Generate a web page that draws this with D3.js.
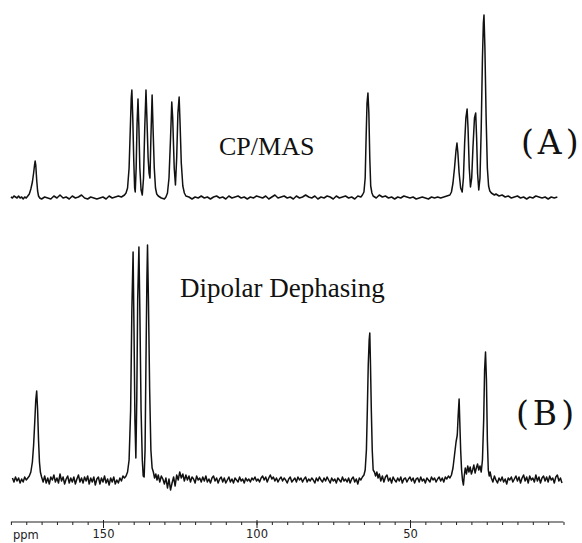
<!DOCTYPE html>
<html>
<head>
<meta charset="utf-8">
<script src="https://cdn.jsdelivr.net/npm/d3@7"></script>
<style>
  body { margin: 0; background: #fff; }
  svg { display: block; }
</style>
</head>
<body>
<div id="chart"></div>
<script>
// trace (A) CP/MAS : [ppm, intensity]
const cpmas = [
  [180,1],[179.5,0],[179,2],[178.5,1],[178,0],[177.5,2],[177,0],[176.5,1],[176,-1],[175.5,1],[175,0],[174.5,2],
  [174,4],[173.5,9],[173,16],[172.6,25],[172.3,33],[172.1,37],[171.9,33],[171.6,18],[171.3,7],[171,2],[170.6,0],
  [170,-1],[169,1],[168,0],[167,-1],[166,2],[165,0],[164,3],[163,0],[162,1],[161,-1],[160,2],[159,0],[158,1],
  [157,3],[156,0],[155,-1],[154,1],[153,0],[152,-1],[151,0],[150,1],[149,-1],[148,2],[147,0],[146,1],[145,2],
  [144,1],[143,3],
  [142.5,5],[142,10],[141.5,30],[141.1,70],[140.8,100],[140.6,108],[140.3,80],[140,40],[139.7,10],[139.5,6],
  [139.2,30],[138.9,75],[138.6,99],[138.3,70],[138,30],[137.6,8],[137.2,3],[136.8,20],[136.4,70],[136,108],
  [135.7,80],[135.3,40],[135,25],[134.7,20],[134.4,60],[134,103],[133.7,70],[133.3,30],[132.9,10],[132.5,4],
  [132,2],[131,0],[130,-1],[129.5,1],[129,5],[128.5,20],[128,60],[127.6,96],[127.3,80],[126.8,30],[126.4,13],
  [126,40],[125.6,85],[125.2,101],[124.9,75],[124.5,35],[124,12],[123.5,5],[123,2],[122,1],[121,-1],[120,1],
  [119,0],[118,2],[117,0],[116,1],[115,-1],[114,1],[113,2],[112,0],[111,1],[110,-1],[109,2],[108,0],[107,1],
  [106,2],[105,0],[104,1],[103,-1],[102,1],[101,0],[100,2],[99,1],[98,0],[97,2],[96,-1],[95,1],[94,3],[93,0],
  [92,1],[91,2],[90,0],[89,1],[88,-1],[87,2],[86,0],[85,1],[84,3],[83,1],[82,0],[81,2],[80,-1],[79,1],[78,0],
  [77,2],[76,1],[75,-1],[74,2],[73,0],[72,1],[71,2],[70,0],[69,1],[68,-1],[67,2],[66,1],
  [65.5,3],[65,6],[64.6,20],[64.3,60],[64,95],[63.7,105],[63.4,85],[63.1,40],[62.8,12],[62.4,5],[62,2],
  [61,0],[60,3],[59,1],[58,2],[57,0],[56,1],[55,-1],[54,1],[53,0],[52,2],[51,1],[50,0],[49,1],[48,-1],[47,0],
  [46,1],[45,0],[44,-1],[43,1],[42,0],[41,1],[40,0],[39,1],[38,2],[37,3],
  [36.5,6],[36,15],[35.5,30],[35,48],[34.7,55],[34.4,45],[34,25],[33.5,10],[33,6],[32.6,20],[32.2,55],[31.8,80],
  [31.4,89],[31.1,70],[30.7,30],[30.3,11],[29.9,20],[29.5,50],[29,80],[28.6,85],[28.3,60],[28,25],[27.6,8],
  [27.2,20],[26.8,70],[26.4,140],[26.1,175],[25.9,183],[25.6,150],[25.2,80],[24.8,30],[24.4,12],[24,7],[23.5,5],
  [23,4],[22.5,3],[22,4],[21,2],[20,3],[19,1],[18,2],[17,0],[16,1],[15,2],[14,0],[13,1],[12,-1],[11,1],[10,0],
  [9,2],[8,1],[7,0],[6,1],[5,-1],[4,1],[3,0],[2,1]
];

// trace (B) dipolar dephasing : [ppm, intensity]
const dipolar = [
  [179.5,2],[179,-2],[178.5,3],[178,-1],[177.5,2],[177,-3],[176.5,1],[176,-2],[175.5,3],[175,0],[174.5,2],[174,4],
  [173.5,8],[173,18],[172.6,35],[172.2,60],[171.9,80],[171.6,89],[171.3,70],[171,40],[170.7,18],[170.4,8],[170,3],
  [169.5,-2],[169,4],[168.5,-3],[168,2],[167.5,-4],[167,3],[166.5,0],[166,5],[165.5,-2],[165,2],[164.5,-3],[164,6],
  [163.5,-1],[163,3],[162.5,-4],[162,1],[161.5,4],[161,-3],[160.5,2],[160,-2],[159.5,3],[159,-4],[158.5,1],[158,5],
  [157.5,-2],[157,2],[156.5,-3],[156,3],[155.5,-1],[155,4],[154.5,-4],[154,2],[153.5,-2],[153,3],[152.5,-5],[152,1],
  [151.5,3],[151,-4],[150.5,2],[150,-2],[149.5,4],[149,-3],[148.5,1],[148,-5],[147.5,2],[147,-2],[146.5,3],[146,-4],
  [145.5,0],[145,-3],[144.5,2],[144,-1],[143.5,4],[143,2],
  [142.5,4],[142,8],[141.5,20],[141,70],[140.6,170],[140.2,228],[139.9,150],[139.6,60],[139.3,22],[139,80],
  [138.7,180],[138.3,233],[138,170],[137.6,70],[137.2,20],[136.9,4],[136.6,3],[136.3,30],[136,120],[135.7,200],
  [135.5,235],[135.2,180],[134.8,90],[134.4,30],[134,12],[133.6,8],[133.2,2],
  [132.8,6],[132.4,0],[132,5],[131.5,-2],[131,4],[130.5,1],[130,-4],[129.5,2],[129,-8],[128.5,1],[128,-10],
  [127.5,-3],[127,3],[126.5,-6],[126,5],[125.5,0],[125,8],[124.5,2],[124,6],[123.5,-1],[123,5],[122.5,0],[122,4],
  [121.5,-2],[121,3],[120.5,1],[120,-3],[119.5,4],[119,0],[118.5,2],[118,-2],[117.5,3],[117,-1],[116.5,4],[116,-2],
  [115.5,1],[115,-3],[114.5,2],[114,4],[113.5,-1],[113,2],[112.5,-3],[112,1],[111.5,3],[111,-2],[110.5,2],[110,-3],
  [109.5,0],[109,3],[108.5,-2],[108,1],[107.5,-3],[107,2],[106.5,0],[106,-2],[105.5,3],[105,-1],[104.5,1],[104,-3],
  [103.5,2],[103,-1],[102.5,1],[102,-2],[101.5,2],[101,0],[100.5,3],[100,-1],[99.5,1],[99,-2],[98.5,2],[98,4],
  [97.5,0],[97,3],[96.5,-2],[96,2],[95.5,5],[95,1],[94.5,3],[94,-1],[93.5,2],[93,-2],[92.5,1],[92,3],[91.5,-1],
  [91,2],[90.5,0],[90,-3],[89.5,1],[89,3],[88.5,-2],[88,0],[87.5,2],[87,-2],[86.5,3],[86,0],[85.5,2],[85,-2],
  [84.5,1],[84,3],[83.5,-2],[83,1],[82.5,-1],[82,2],[81.5,0],[81,-3],[80.5,2],[80,-1],[79.5,3],[79,0],[78.5,-2],
  [78,2],[77.5,-1],[77,3],[76.5,0],[76,-3],[75.5,2],[75,-1],[74.5,1],[74,-3],[73.5,2],[73,0],[72.5,-2],[72,3],
  [71.5,-1],[71,1],[70.5,-2],[70,2],[69.5,-3],[69,1],[68.5,3],[68,-2],[67.5,1],[67,-4],[66.5,2],[66,0],[65.5,3],
  [65,5],[64.6,10],[64.2,30],[63.9,70],[63.6,115],[63.3,140],[63.1,147],[62.9,120],[62.6,70],[62.3,30],[62,10],
  [61.6,8],[61.2,4],[60.8,8],[60.4,2],[60,6],[59.5,-1],[59,4],[58.5,-2],[58,3],[57.5,5],[57,-1],[56.5,2],[56,-3],
  [55.5,3],[55,0],[54.5,-2],[54,2],[53.5,-1],[53,3],[52.5,-3],[52,1],[51.5,2],[51,-2],[50.5,1],[50,3],[49.5,-1],
  [49,2],[48.5,-3],[48,1],[47.5,2],[47,-2],[46.5,3],[46,-1],[45.5,1],[45,-3],[44.5,2],[44,0],[43.5,-2],[43,3],
  [42.5,0],[42,2],[41.5,-2],[41,1],[40.5,3],[40,-1],[39.5,2],[39,-2],[38.5,3],[38,1],[37.5,4],[37,2],
  [36.5,5],[36,12],[35.5,25],[35,38],[34.6,45],[34.3,65],[34,81],[33.8,60],[33.5,30],[33.2,10],[32.9,0],[32.6,-5],
  [32.3,5],[32,12],[31.6,6],[31.2,14],[30.8,8],[30.4,13],[30,6],[29.6,10],[29.2,15],[28.8,7],[28.4,12],[28,16],
  [27.6,10],[27.2,14],[26.8,8],[26.4,20],[26,60],[25.7,110],[25.4,128],[25.1,100],[24.8,40],[24.5,10],[24.2,4],
  [23.9,8],[23.5,2],[23,-2],[22.5,4],[22,0],[21.5,-3],[21,2],[20.5,-1],[20,3],[19.5,-2],[19,1],[18.5,-4],[18,2],
  [17.5,0],[17,3],[16.5,-2],[16,1],[15.5,4],[15,-1],[14.5,3],[14,-3],[13.5,2],[13,5],[12.5,-1],[12,3],[11.5,-3],
  [11,4],[10.5,0],[10,2],[9.5,-2],[9,5],[8.5,-1],[8,3],[7.5,-3],[7,2],[6.5,4],[6,-1],[5.5,3],[5,-2],[4.5,4],
  [4,0],[3.5,2],[3,-3],[2.5,3],[2,5],[1.5,-1],[1,2],[0.5,-3]
];

const majorTicks = [150, 100, 50];
const minorTicks = d3.range(180, -1, -5);
const axisUnit = 'ppm';
const labels = ['CP/MAS', 'Dipolar Dephasing'];
const panelTags = ['(A)', '(B)'];

const w = 582;
const h = 543;

const svg = d3.select('#chart').append('svg').attr('width', w).attr('height', h);

const xScale = d3.scaleLinear().domain([180, 0]).range([10.9, 563.5]);
const yA = d3.scaleLinear().domain([0, 200]).range([198, -2]);
const yB = d3.scaleLinear().domain([0, 240]).range([480, 240]);

const lineA = d3.line().x(d => xScale(d[0])).y(d => yA(d[1]));
const lineB = d3.line().x(d => xScale(d[0])).y(d => yB(d[1]));

svg.append('path').datum(cpmas).attr('d', lineA)
  .attr('fill', 'none').attr('stroke', '#111').attr('stroke-width', 1.5).attr('stroke-linejoin', 'round');
svg.append('path').datum(dipolar).attr('d', lineB)
  .attr('fill', 'none').attr('stroke', '#111').attr('stroke-width', 1.5).attr('stroke-linejoin', 'round');

// ppm axis
const axisY = 522;
const minorAxis = d3.axisBottom(xScale).tickValues(minorTicks).tickSize(3).tickFormat('').tickSizeOuter(0);
const majorAxis = d3.axisBottom(xScale).tickValues(majorTicks).tickSize(6).tickPadding(2).tickSizeOuter(0);

const gMinor = svg.append('g').attr('transform', 'translate(0,' + axisY + ')').call(minorAxis);
gMinor.select('.domain').attr('d', 'M' + xScale(180) + ',0H' + xScale(0)).attr('stroke', '#222').attr('stroke-width', 1.2);
gMinor.selectAll('line').attr('stroke', '#222');

const gMajor = svg.append('g').attr('transform', 'translate(0,' + axisY + ')').call(majorAxis);
gMajor.select('.domain').remove();
gMajor.selectAll('line').attr('stroke', '#222').attr('y1', -2);
gMajor.selectAll('text').attr('font-family', 'DejaVu Sans').attr('font-size', 11.5).attr('fill', '#222');

svg.append('text').attr('x', 13).attr('y', 539).text(axisUnit)
  .attr('font-family', 'DejaVu Sans').attr('font-size', 11.5).attr('fill', '#222');

// labels
svg.append('text').attr('x', 219).attr('y', 155).text(labels[0])
  .attr('font-family', 'Liberation Serif').attr('font-size', 26).attr('fill', '#111');
svg.append('text').attr('x', 180).attr('y', 297).text(labels[1])
  .attr('font-family', 'Liberation Serif').attr('font-size', 27).attr('fill', '#111');

svg.append('text').attr('x', 521).attr('y', 154).text(panelTags[0])
  .attr('font-family', 'DejaVu Serif').attr('font-size', 33).attr('letter-spacing', 4).attr('fill', '#111');
svg.append('text').attr('x', 516).attr('y', 425).text(panelTags[1])
  .attr('font-family', 'DejaVu Serif').attr('font-size', 33).attr('letter-spacing', 4).attr('fill', '#111');
</script>
</body>
</html>
